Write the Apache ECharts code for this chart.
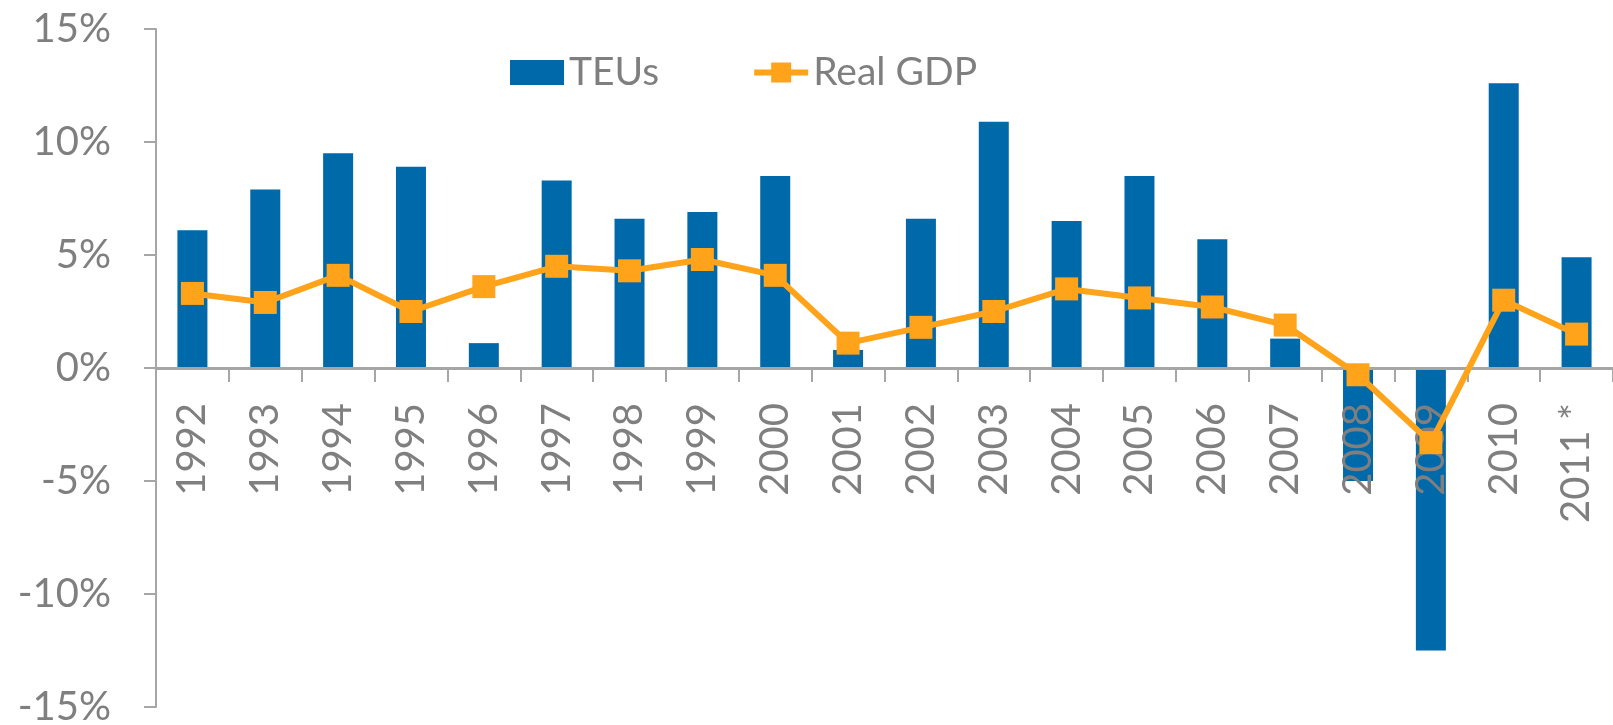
<!DOCTYPE html>
<html>
<head>
<meta charset="utf-8">
<style>
  html, body { margin: 0; padding: 0; background: #fff; }
  #chart { width: 1613px; height: 725px; }
</style>
<script src="https://cdn.jsdelivr.net/npm/echarts@6/dist/echarts.min.js"></script>
</head>
<body>
<div id="chart"></div>
<script>
// years on the x axis
const years = ['1992', '1993', '1994', '1995', '1996', '1997', '1998', '1999', '2000', '2001',
  '2002', '2003', '2004', '2005', '2006', '2007', '2008', '2009', '2010', '2011 *']
// annual growth, percent
const teus = [6.1, 7.9, 9.5, 8.9, 1.1, 8.3, 6.6, 6.9, 8.5, 0.8,
  6.6, 10.9, 6.5, 8.5, 5.7, 1.3, -5.0, -12.5, 12.6, 4.9]
const realGdp = [3.3, 2.9, 4.1, 2.5, 3.6, 4.5, 4.3, 4.8, 4.1, 1.1,
  1.8, 2.5, 3.5, 3.1, 2.7, 1.9, -0.3, -3.3, 3.0, 1.5]

const grey = '#7f7f7f'
const axisGrey = '#a6a6a6'
const font = 'Lato, "Open Sans", sans-serif'

const gridTop = 29
const gridBottom = 18
// the category axis sits on 0%, halfway down the grid (-15..15)
const zeroOffset = -(725 - gridTop - gridBottom) / 2

const chart = echarts.init(document.getElementById('chart'))
chart.setOption({
  animation: false,
  backgroundColor: '#fff',
  textStyle: { fontFamily: font },
  legend: {
    left: 505,
    top: 48,
    itemGap: 92,
    itemWidth: 54,
    itemHeight: 25,
    textStyle: { color: grey, fontSize: 39, fontFamily: font },
    data: [
      { name: 'TEUs', icon: 'rect' },
      { name: 'Real GDP', lineStyle: { width: 6 } }
    ]
  },
  grid: {
    left: 156,
    right: 0,
    top: gridTop,
    bottom: gridBottom,
    containLabel: false,
    outerBoundsMode: 'none'
  },
  xAxis: {
    type: 'category',
    data: years,
    position: 'bottom',
    offset: zeroOffset,
    z: 3,
    axisLine: { onZero: false, lineStyle: { color: axisGrey, width: 3 } },
    axisTick: { show: true, length: 14, lineStyle: { color: axisGrey, width: 2 } },
    axisLabel: {
      rotate: 90,
      margin: 35,
      color: grey,
      fontSize: 40,
      fontFamily: font
    }
  },
  yAxis: {
    type: 'value',
    min: -15,
    max: 15,
    interval: 5,
    splitLine: { show: false },
    axisLine: { show: true, lineStyle: { color: axisGrey, width: 2 } },
    axisTick: { show: true, length: 12, lineStyle: { color: axisGrey, width: 2 } },
    axisLabel: {
      formatter: '{value}%',
      margin: 45,
      color: grey,
      fontSize: 40,
      fontFamily: font
    }
  },
  series: [
    {
      name: 'TEUs',
      type: 'bar',
      data: teus,
      barWidth: 30,
      itemStyle: { color: '#0069aa' }
    },
    {
      name: 'Real GDP',
      type: 'line',
      data: realGdp,
      symbol: 'rect',
      symbolSize: 23,
      itemStyle: { color: '#ffa31a' },
      lineStyle: { color: '#ffa31a', width: 6 }
    }
  ]
})
</script>
</body>
</html>
